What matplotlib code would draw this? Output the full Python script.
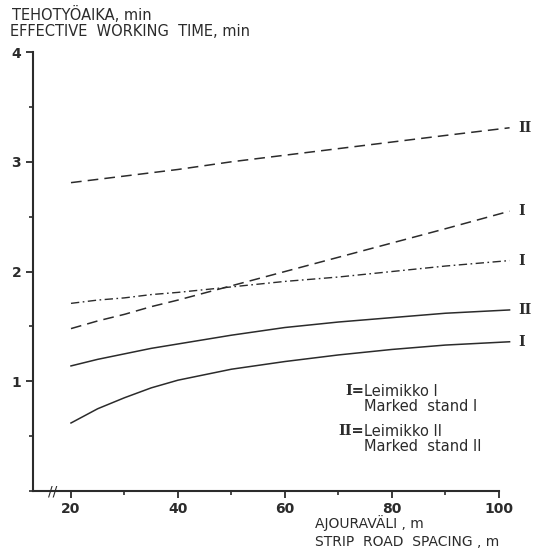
import matplotlib.pyplot as plt
import matplotlib as mpl
from matplotlib.ticker import MultipleLocator

mpl.rcParams['font.family'] = ['DejaVu Sans']

# Ajouraväli (m) ja tehotyöaika (min)
spacing = [20, 25, 30, 35, 40, 50, 60, 70, 80, 90, 102]
solid_I = [0.62, 0.75, 0.85, 0.94, 1.01, 1.11, 1.18, 1.24, 1.29, 1.33, 1.36]
solid_II = [1.14, 1.20, 1.25, 1.30, 1.34, 1.42, 1.49, 1.54, 1.58, 1.62, 1.65]
dashed_I = [1.48, 1.55, 1.61, 1.68, 1.74, 1.87, 2.00, 2.13, 2.26, 2.39, 2.55]
dashdot_I = [1.71, 1.74, 1.76, 1.79, 1.81, 1.86, 1.91, 1.95, 2.00, 2.05, 2.10]
dashed_II = [2.81, 2.84, 2.87, 2.90, 2.93, 3.00, 3.06, 3.12, 3.18, 3.24, 3.31]

x_ticks = [20, 40, 60, 80, 100]
y_ticks = [1, 2, 3, 4]

ink = '#2b2b2b'

fig = plt.figure(figsize=(5.36, 5.49), dpi=100)
ax = fig.add_axes([0.0616, 0.1056, 0.929, 0.7996])

ax.plot(spacing, solid_I, color=ink, lw=1.1)
ax.plot(spacing, solid_II, color=ink, lw=1.1)
ax.plot(spacing, dashed_I, color=ink, lw=1.1, linestyle=(0, (7, 4)))
ax.plot(spacing, dashdot_I, color=ink, lw=1.0, linestyle=(0, (6, 2.5, 1.2, 2.5)))
ax.plot(spacing, dashed_II, color=ink, lw=1.1, linestyle=(0, (7, 4)))

# roomalaiset numerot käyrien päässä
ends = [(solid_I, 'I'), (solid_II, 'II'), (dashed_I, 'I'),
        (dashdot_I, 'I'), (dashed_II, 'II')]
for ys, lab in ends:
    ax.text(spacing[-1] + 1.6, ys[-1], lab, family='DejaVu Serif',
            fontsize=10, fontweight='bold', ha='left', va='center', color=ink)

ax.set_xlim(12.9, 106)
ax.set_ylim(0, 4)
ax.spines['top'].set_visible(False)
ax.spines['right'].set_visible(False)
ax.spines['bottom'].set_bounds(12.9, 100)
for s in ('left', 'bottom'):
    ax.spines[s].set_linewidth(1.5)
    ax.spines[s].set_color(ink)

ax.set_xticks(x_ticks)
ax.xaxis.set_minor_locator(MultipleLocator(10))
ax.set_yticks(y_ticks)
ax.yaxis.set_minor_locator(MultipleLocator(0.5))
ax.tick_params(axis='both', which='major', length=5, width=1.3, color=ink,
               labelsize=10, labelcolor=ink)
ax.tick_params(axis='both', which='minor', length=3, width=1.2, color=ink)
ax.tick_params(axis='x', which='both', direction='out', pad=3)
for t in ax.get_xticklabels() + ax.get_yticklabels():
    t.set_fontweight('bold')

# katkomerkki x-akselilla
ax.text(16.5, 0, '//', ha='center', va='center', fontsize=10,
        color=ink, clip_on=False)

fig.text(0.022, 0.974, 'TEHOTYÖAIKA, min', fontsize=10.5, color=ink,
         ha='left', va='center')
fig.text(0.018, 0.943, 'EFFECTIVE  WORKING  TIME, min', fontsize=10.5,
         color=ink, ha='left', va='center')
fig.text(0.588, 0.048, 'AJOURAVÄLI , m', fontsize=10, color=ink,
         ha='left', va='center')
fig.text(0.588, 0.013, 'STRIP  ROAD  SPACING , m', fontsize=10, color=ink,
         ha='left', va='center')

# selite
lx = 0.665
ax.text(lx, 0.227, 'I=', transform=ax.transAxes, family='DejaVu Serif',
        fontsize=10.5, fontweight='bold', ha='right', va='center', color=ink)
ax.text(lx, 0.227, 'Leimikko I', transform=ax.transAxes, fontsize=10.5,
        ha='left', va='center', color=ink)
ax.text(lx, 0.193, 'Marked  stand I', transform=ax.transAxes, fontsize=10.5,
        ha='left', va='center', color=ink)
ax.text(lx, 0.136, 'II=', transform=ax.transAxes, family='DejaVu Serif',
        fontsize=10.5, fontweight='bold', ha='right', va='center', color=ink)
ax.text(lx, 0.136, 'Leimikko II', transform=ax.transAxes, fontsize=10.5,
        ha='left', va='center', color=ink)
ax.text(lx, 0.102, 'Marked  stand II', transform=ax.transAxes, fontsize=10.5,
        ha='left', va='center', color=ink)

fig.savefig('out.png', dpi=100)
